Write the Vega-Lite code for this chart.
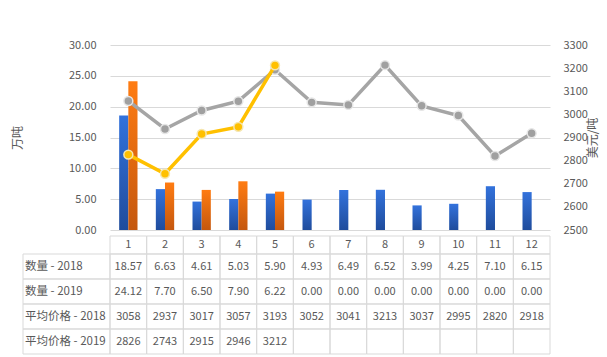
{
  "$schema": "https://vega.github.io/schema/vega-lite/v6.json",
  "padding": {"left": 11, "top": 39, "right": 4, "bottom": 4},
  "background": "white",
  "config": {
    "font": "Noto Sans CJK SC",
    "view": {"stroke": null},
    "axis": {"labelColor": "#595959", "titleColor": "#595959", "labelFontSize": 11, "titleFontSize": 12, "titleFontWeight": "normal"}
  },
  "data": {"values": [
    {"month": "1", "series": "数量 - 2018", "value": 18.57},
    {"month": "2", "series": "数量 - 2018", "value": 6.63},
    {"month": "3", "series": "数量 - 2018", "value": 4.61},
    {"month": "4", "series": "数量 - 2018", "value": 5.03},
    {"month": "5", "series": "数量 - 2018", "value": 5.90},
    {"month": "6", "series": "数量 - 2018", "value": 4.93},
    {"month": "7", "series": "数量 - 2018", "value": 6.49},
    {"month": "8", "series": "数量 - 2018", "value": 6.52},
    {"month": "9", "series": "数量 - 2018", "value": 3.99},
    {"month": "10", "series": "数量 - 2018", "value": 4.25},
    {"month": "11", "series": "数量 - 2018", "value": 7.10},
    {"month": "12", "series": "数量 - 2018", "value": 6.15},
    {"month": "1", "series": "数量 - 2019", "value": 24.12},
    {"month": "2", "series": "数量 - 2019", "value": 7.70},
    {"month": "3", "series": "数量 - 2019", "value": 6.50},
    {"month": "4", "series": "数量 - 2019", "value": 7.90},
    {"month": "5", "series": "数量 - 2019", "value": 6.22},
    {"month": "6", "series": "数量 - 2019", "value": 0},
    {"month": "7", "series": "数量 - 2019", "value": 0},
    {"month": "8", "series": "数量 - 2019", "value": 0},
    {"month": "9", "series": "数量 - 2019", "value": 0},
    {"month": "10", "series": "数量 - 2019", "value": 0},
    {"month": "11", "series": "数量 - 2019", "value": 0},
    {"month": "12", "series": "数量 - 2019", "value": 0},
    {"month": "1", "series": "平均价格 - 2018", "value": 3058},
    {"month": "2", "series": "平均价格 - 2018", "value": 2937},
    {"month": "3", "series": "平均价格 - 2018", "value": 3017},
    {"month": "4", "series": "平均价格 - 2018", "value": 3057},
    {"month": "5", "series": "平均价格 - 2018", "value": 3193},
    {"month": "6", "series": "平均价格 - 2018", "value": 3052},
    {"month": "7", "series": "平均价格 - 2018", "value": 3041},
    {"month": "8", "series": "平均价格 - 2018", "value": 3213},
    {"month": "9", "series": "平均价格 - 2018", "value": 3037},
    {"month": "10", "series": "平均价格 - 2018", "value": 2995},
    {"month": "11", "series": "平均价格 - 2018", "value": 2820},
    {"month": "12", "series": "平均价格 - 2018", "value": 2918},
    {"month": "1", "series": "平均价格 - 2019", "value": 2826},
    {"month": "2", "series": "平均价格 - 2019", "value": 2743},
    {"month": "3", "series": "平均价格 - 2019", "value": 2915},
    {"month": "4", "series": "平均价格 - 2019", "value": 2946},
    {"month": "5", "series": "平均价格 - 2019", "value": 3212},
    {"month": "6", "series": "平均价格 - 2019", "value": null},
    {"month": "7", "series": "平均价格 - 2019", "value": null},
    {"month": "8", "series": "平均价格 - 2019", "value": null},
    {"month": "9", "series": "平均价格 - 2019", "value": null},
    {"month": "10", "series": "平均价格 - 2019", "value": null},
    {"month": "11", "series": "平均价格 - 2019", "value": null},
    {"month": "12", "series": "平均价格 - 2019", "value": null}
  ]},
  "spacing": 0,
  "vconcat": [
    {
      "width": 440,
      "height": 185,
      "encoding": {
        "x": {"field": "month", "type": "ordinal", "scale": {"domain": ["1","2","3","4","5","6","7","8","9","10","11","12"], "paddingInner": 0.5, "paddingOuter": 0.25}, "axis": null}
      },
      "layer": [
        {
          "encoding": {
            "y": {"field": "value", "type": "quantitative", "scale": {"domain": [0, 30]},
              "axis": {"values": [0, 5, 10, 15, 20, 25, 30], "format": ".2f", "grid": true, "gridColor": "#d9d9d9", "domain": false, "ticks": false, "labelPadding": 14, "title": "万吨", "titlePadding": 44}},
            "xOffset": {"field": "series", "type": "nominal", "scale": {"domain": ["数量 - 2018", "数量 - 2019"], "paddingInner": 0, "paddingOuter": 0}}
          },
          "layer": [
            {
              "transform": [{"filter": "datum.series === '数量 - 2018'"}],
              "mark": {"type": "bar", "color": {"gradient": "linear", "x1": 0, "y1": 0, "x2": 0, "y2": 1, "stops": [{"offset": 0, "color": "#3372dc"}, {"offset": 1, "color": "#1f4c9c"}]}}
            },
            {
              "transform": [{"filter": "datum.series === '数量 - 2019'"}],
              "mark": {"type": "bar", "color": {"gradient": "linear", "x1": 0, "y1": 0, "x2": 0, "y2": 1, "stops": [{"offset": 0, "color": "#ff7c12"}, {"offset": 1, "color": "#c4570e"}]}}
            }
          ]
        },
        {
          "encoding": {
            "y": {"field": "value", "type": "quantitative", "scale": {"domain": [2500, 3300]},
              "axis": {"orient": "right", "values": [2500, 2600, 2700, 2800, 2900, 3000, 3100, 3200, 3300], "format": "d", "grid": false, "domain": false, "ticks": false, "labelPadding": 13, "title": "美元/吨", "titleAngle": -90, "titlePadding": 12}}
          },
          "layer": [
            {
              "transform": [{"filter": "datum.series === '平均价格 - 2018'"}],
              "mark": {"type": "line", "color": "#a5a5a5", "strokeWidth": 3.5}
            },
            {
              "transform": [{"filter": "datum.series === '平均价格 - 2018'"}],
              "mark": {"type": "point", "filled": true, "fill": "#a0a0a0", "stroke": "#e6e6e6", "strokeWidth": 1.5, "size": 80, "opacity": 1}
            },
            {
              "transform": [{"filter": "datum.series === '平均价格 - 2019' && isValid(datum.value)"}],
              "mark": {"type": "line", "color": "#ffc000", "strokeWidth": 3.5}
            },
            {
              "transform": [{"filter": "datum.series === '平均价格 - 2019' && isValid(datum.value)"}],
              "mark": {"type": "point", "filled": true, "fill": "#ffc000", "stroke": "#f5e6b0", "strokeWidth": 1.5, "size": 80, "opacity": 1}
            }
          ]
        }
      ],
      "resolve": {"scale": {"y": "independent"}}
    },
    {
      "width": 440,
      "height": 118,
      "layer": [
        {
          "transform": [{"filter": "datum.series === '数量 - 2018'"}],
          "encoding": {
            "x": {"field": "month", "type": "ordinal", "scale": {"domain": ["1","2","3","4","5","6","7","8","9","10","11","12"], "paddingInner": 0, "paddingOuter": 0}, "axis": null},
            "y": {"datum": "cat", "type": "nominal", "scale": {"domain": ["cat"], "range": [0, 18], "paddingInner": 0, "paddingOuter": 0}, "axis": null}
          },
          "layer": [
            {"mark": {"type": "rect", "filled": false, "color": "#d9d9d9", "strokeWidth": 1}},
            {"mark": {"type": "text", "color": "#595959", "fontSize": 11}, "encoding": {"text": {"field": "month"}}}
          ]
        },
        {
          "encoding": {
            "x": {"field": "month", "type": "ordinal", "scale": {"domain": ["1","2","3","4","5","6","7","8","9","10","11","12"], "paddingInner": 0, "paddingOuter": 0}, "axis": null},
            "y": {"field": "series", "type": "nominal", "scale": {"domain": ["数量 - 2018", "数量 - 2019", "平均价格 - 2018", "平均价格 - 2019"], "range": [18, 118], "paddingInner": 0, "paddingOuter": 0}, "axis": null}
          },
          "layer": [
            {"mark": {"type": "rect", "filled": false, "color": "#d9d9d9", "strokeWidth": 1}},
            {
              "transform": [{"filter": "indexof(datum.series, '数量') === 0"}],
              "mark": {"type": "text", "color": "#595959", "fontSize": 11},
              "encoding": {"text": {"field": "value", "type": "quantitative", "format": ".2f"}}
            },
            {
              "transform": [{"filter": "indexof(datum.series, '平均价格') === 0 && isValid(datum.value)"}],
              "mark": {"type": "text", "color": "#595959", "fontSize": 11},
              "encoding": {"text": {"field": "value", "type": "quantitative", "format": "d"}}
            }
          ]
        },
        {
          "transform": [{"filter": "datum.month === '1'"}],
          "encoding": {
            "x": {"datum": "h", "type": "nominal", "scale": {"domain": ["h"], "range": [-87, 0], "paddingInner": 0, "paddingOuter": 0}, "axis": null},
            "y": {"field": "series", "type": "nominal", "scale": {"domain": ["数量 - 2018", "数量 - 2019", "平均价格 - 2018", "平均价格 - 2019"], "range": [18, 118], "paddingInner": 0, "paddingOuter": 0}, "axis": null}
          },
          "layer": [
            {"mark": {"type": "rect", "filled": false, "color": "#d9d9d9", "strokeWidth": 1}},
            {
              "mark": {"type": "text", "color": "#595959", "fontSize": 11.5, "align": "left", "dx": 2},
              "encoding": {"x": {"datum": "h", "type": "nominal", "bandPosition": 0}, "text": {"field": "series"}}
            }
          ]
        }
      ],
      "resolve": {"scale": {"x": "independent", "y": "independent"}}
    }
  ]
}
